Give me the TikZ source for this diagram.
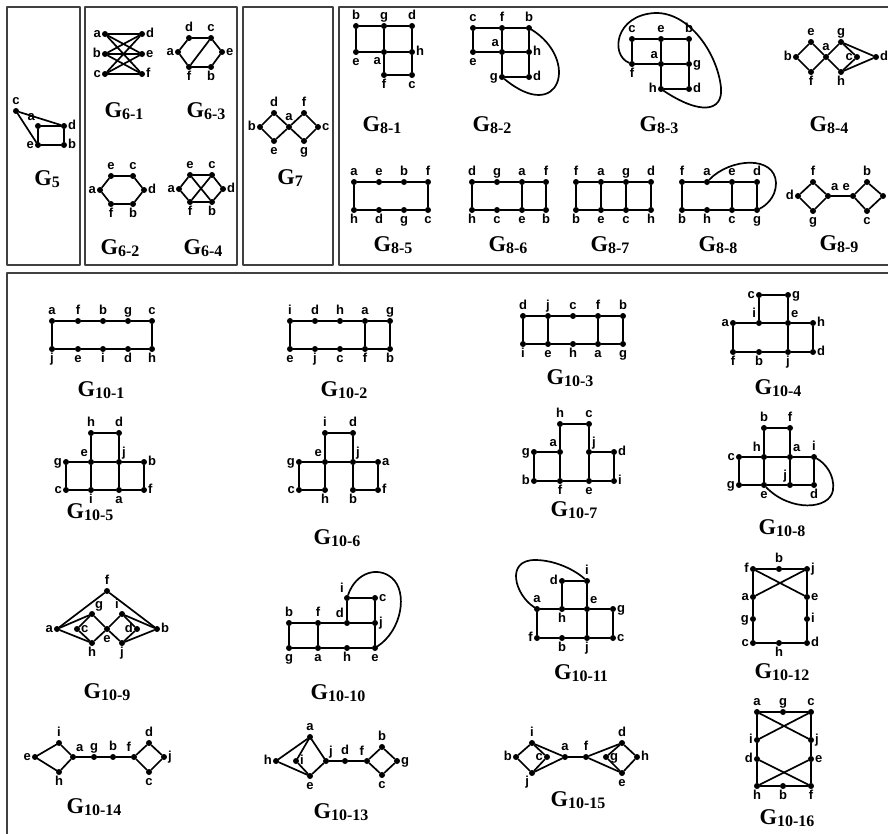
\documentclass[tikz,border=0pt]{standalone}
\usepackage{fontspec}
\setmainfont{Liberation Serif}
\setsansfont{Liberation Sans}
\newcommand{\gname}[1]{G\raisebox{-1.5pt}{\fontsize{16}{16}\selectfont #1}}

\begin{document}
\begin{tikzpicture}[
  x=1pt,
  y=-1pt,
  line join=round,
  line cap=round,
  frame/.style={draw=black!75,line width=1.8pt},
  edge/.style={draw=black,line width=1.7pt},
  dot/.style={circle,fill=black,inner sep=0pt,minimum size=6pt},
  label distance=0.4pt,
  every label/.style={font=\sffamily\bfseries\fontsize{13}{13}\selectfont,inner sep=0.4pt,text height=9.4pt,text depth=2.7pt},
  title/.style={font=\bfseries\fontsize{22.5}{22.5}\selectfont,inner sep=0pt}
]
  \useasboundingbox (0,0) rectangle (888,833);

  % Panel frames.
  \draw[frame] (7,7) rectangle (80,265);
  \draw[frame] (85,7) rectangle (237,265);
  \draw[frame] (243,7) rectangle (333,265);
  \draw[frame] (339,7) rectangle (896,265);
  \draw[frame] (7,273) rectangle (896,842);

  % G5.
  \foreach \nm/\x/\y/\pos in {c/16/111/above,a/38/126/above left,d/64/126/right,e/38/145/left,b/64/145/right}
    \node[dot,label=\pos:\nm] (g5\nm) at (\x,\y) {};
  \draw[edge] (g5c) -- (g5d);
  \draw[edge] (g5c) -- (g5e);
  \draw[edge] (g5a) -- (g5d) -- (g5b) -- (g5e) -- (g5a);
  \node[title] (t5) at (47,179) {\gname{5}};

  % G6-1.
  \foreach \nm/\x/\y/\pos in {a/105/34/left,b/105/54/left,c/105/74/left,d/142/34/right,e/142/54/right,f/142/74/right}
    \node[dot,label=\pos:\nm] (g61\nm) at (\x,\y) {};
  \foreach \u in {a,b,c} {
    \foreach \w in {d,e,f} {
      \draw[edge] (g61\u) -- (g61\w);
    }
  }
  \node[title] (t61) at (124,111) {\gname{6-1}};

  % G6-3.
  \foreach \nm/\x/\y/\pos in {d/189/38/above,c/211/38/above,a/178/52/left,e/222/52/right,f/189/67/below,b/211/67/below}
    \node[dot,label=\pos:\nm] (g63\nm) at (\x,\y) {};
  \draw[edge] (g63a) -- (g63d) -- (g63c) -- (g63e) -- (g63b) -- (g63f) -- (g63a);
  \draw[edge] (g63c) -- (g63f);
  \node[title] (t63) at (206,111) {\gname{6-3}};

  % G6-2.
  \foreach \nm/\x/\y/\pos in {e/111/176/above,c/133/176/above,a/100/190/left,d/144/190/right,f/111/204/below,b/133/204/below}
    \node[dot,label=\pos:\nm] (g62\nm) at (\x,\y) {};
  \draw[edge] (g62a) -- (g62e) -- (g62c) -- (g62d) -- (g62b) -- (g62f) -- (g62a);
  \node[title] (t62) at (120,248) {\gname{6-2}};

  % G6-4.
  \foreach \nm/\x/\y/\pos in {e/190/175/above,c/212/175/above,a/179/189/left,d/223/189/right,f/190/202/below,b/212/202/below}
    \node[dot,label=\pos:\nm] (g64\nm) at (\x,\y) {};
  \draw[edge] (g64a) -- (g64e) -- (g64c) -- (g64d) -- (g64b) -- (g64f) -- (g64a);
  \draw[edge] (g64e) -- (g64b);
  \draw[edge] (g64c) -- (g64f);
  \node[title] (t64) at (203,248) {\gname{6-4}};

  % G7.
  \foreach \nm/\x/\y/\pos in {d/274/113/above,f/304/113/above,b/260/127/left,a/289/127/above,c/318/127/right,e/274/141/below,g/304/141/below}
    \node[dot,label=\pos:\nm] (g7\nm) at (\x,\y) {};
  \draw[edge] (g7b) -- (g7d) -- (g7a) -- (g7e) -- (g7b);
  \draw[edge] (g7a) -- (g7f) -- (g7c) -- (g7g) -- (g7a);
  \node[title] (t7) at (290,178) {\gname{7}};

  % G8-1.
  \foreach \nm/\x/\y/\pos in {b/356/26/above,g/384/26/above,d/412/26/above,e/356/52/below,a/384/52/below left,h/412/52/right,f/384/75/below,c/412/75/below}
    \node[dot,label=\pos:\nm] (g81\nm) at (\x,\y) {};
  \draw[edge] (g81b) -- (g81g) -- (g81d);
  \draw[edge] (g81e) -- (g81a) -- (g81h);
  \draw[edge] (g81f) -- (g81c);
  \draw[edge] (g81b) -- (g81e);
  \draw[edge] (g81g) -- (g81a) -- (g81f);
  \draw[edge] (g81d) -- (g81h) -- (g81c);
  \node[title] (t81) at (382,125) {\gname{8-1}};

  % G8-2.
  \foreach \nm/\x/\y/\pos in {c/473/28/above,f/502/28/above,b/529/28/above,e/473/52/below,a/502/52/above left,h/529/52/right,g/502/77/left,d/529/77/right}
    \node[dot,label=\pos:\nm] (g82\nm) at (\x,\y) {};
  \draw[edge] (g82c) -- (g82f) -- (g82b);
  \draw[edge] (g82e) -- (g82a) -- (g82h);
  \draw[edge] (g82g) -- (g82d);
  \draw[edge] (g82c) -- (g82e);
  \draw[edge] (g82f) -- (g82a) -- (g82g);
  \draw[edge] (g82b) -- (g82h) -- (g82d);
  \draw[edge] (g82b) .. controls (580,60) and (560,125) .. (g82g);
  \node[title] (t82) at (492,125) {\gname{8-2}};

  % G8-3.
  \foreach \nm/\x/\y/\pos in {c/632/39/above,e/661/39/above,b/689/39/above,f/632/64/below,a/661/64/above left,g/689/64/right,h/661/89/left,d/689/89/right}
    \node[dot,label=\pos:\nm] (g83\nm) at (\x,\y) {};
  \draw[edge] (g83c) -- (g83e) -- (g83b);
  \draw[edge] (g83f) -- (g83a) -- (g83g);
  \draw[edge] (g83h) -- (g83d);
  \draw[edge] (g83c) -- (g83f);
  \draw[edge] (g83e) -- (g83a) -- (g83h);
  \draw[edge] (g83b) -- (g83g) -- (g83d);
  \draw[edge] (g83f) .. controls (610,55) and (615,15) .. (655,13)
    .. controls (690,12) and (718,55) .. (721,88)
    .. controls (723,112) and (700,115) .. (g83h);
  \node[title] (t83) at (659,125) {\gname{8-3}};

  % G8-4.
  \foreach \nm/\x/\y/\pos in {e/811/42/above,b/796/57/left,a/826/57/above,f/811/72/below,g/841/42/above,h/841/72/below,c/857/57/left,d/876/57/right}
    \node[dot,label=\pos:\nm] (g84\nm) at (\x,\y) {};
  \draw[edge] (g84b) -- (g84e) -- (g84a) -- (g84f) -- (g84b);
  \draw[edge] (g84a) -- (g84g) -- (g84c) -- (g84h) -- (g84a);
  \draw[edge] (g84g) -- (g84d) -- (g84h);
  \node[title] (t84) at (829,125) {\gname{8-4}};

  % G8-5.
  \foreach \nm/\x/\y/\pos in {a/354/182/above,e/379/182/above,b/404/182/above,f/428/182/above,h/354/210/below,d/379/210/below,g/404/210/below,c/428/210/below}
    \node[dot,label=\pos:\nm] (g85\nm) at (\x,\y) {};
  \draw[edge] (g85a) -- (g85e) -- (g85b) -- (g85f) -- (g85c) -- (g85g) -- (g85d) -- (g85h) -- (g85a);
  \node[title] (t85) at (393,245) {\gname{8-5}};

  % G8-6.
  \foreach \nm/\x/\y/\pos in {d/472/182/above,g/497/182/above,a/522/182/above,f/546/182/above,h/472/210/below,c/497/210/below,e/522/210/below,b/546/210/below}
    \node[dot,label=\pos:\nm] (g86\nm) at (\x,\y) {};
  \draw[edge] (g86d) -- (g86g) -- (g86a) -- (g86f) -- (g86b) -- (g86e) -- (g86c) -- (g86h) -- (g86d);
  \draw[edge] (g86a) -- (g86e);
  \node[title] (t86) at (508,245) {\gname{8-6}};

  % G8-7.
  \foreach \nm/\x/\y/\pos in {f/576/182/above,a/601/182/above,g/626/182/above,d/651/182/above,b/576/210/below,e/601/210/below,c/626/210/below,h/651/210/below}
    \node[dot,label=\pos:\nm] (g87\nm) at (\x,\y) {};
  \draw[edge] (g87f) -- (g87a) -- (g87g) -- (g87d) -- (g87h) -- (g87c) -- (g87e) -- (g87b) -- (g87f);
  \draw[edge] (g87a) -- (g87e);
  \draw[edge] (g87g) -- (g87c);
  \node[title] (t87) at (610,245) {\gname{8-7}};

  % G8-8.
  \foreach \nm/\x/\y/\pos in {f/682/182/above,a/707/182/above,e/732/182/above,d/757/182/above,b/682/210/below,h/707/210/below,c/732/210/below,g/757/210/below}
    \node[dot,label=\pos:\nm] (g88\nm) at (\x,\y) {};
  \draw[edge] (g88f) -- (g88a) -- (g88e) -- (g88d) -- (g88g) -- (g88c) -- (g88h) -- (g88b) -- (g88f);
  \draw[edge] (g88e) -- (g88c);
  \draw[edge] (g88a) .. controls (730,158) and (775,155) .. (776,183)
    .. controls (776,198) and (765,206) .. (g88g);
  \node[title] (t88) at (718,245) {\gname{8-8}};

  % G8-9 (its last vertex runs into the page edge).
  \foreach \nm/\x/\y/\pos in {f/813/182/above,d/798/196/left,a/828/196/above right,g/813/211/below,e/853/196/above left,b/867/182/above,c/867/211/below}
    \node[dot,label=\pos:\nm] (g89\nm) at (\x,\y) {};
  \node[dot] (g89h) at (883,196) {};
  \draw[edge] (g89d) -- (g89f) -- (g89a) -- (g89g) -- (g89d);
  \draw[edge] (g89a) -- (g89e);
  \draw[edge] (g89e) -- (g89b) -- (g89h) -- (g89c) -- (g89e);
  \node[title] (t89) at (839,244) {\gname{8-9}};

  % G10-1.
  \foreach \nm/\x/\y/\pos in {a/52/321/above,f/78/321/above,b/103/321/above,g/128/321/above,c/152/321/above,j/52/349/below,e/78/349/below,i/103/349/below,d/128/349/below,h/152/349/below}
    \node[dot,label=\pos:\nm] (w1\nm) at (\x,\y) {};
  \draw[edge] (w1a) -- (w1f) -- (w1b) -- (w1g) -- (w1c) -- (w1h) -- (w1d) -- (w1i) -- (w1e) -- (w1j) -- (w1a);
  \node[title] (t101) at (101,390) {\gname{10-1}};

  % G10-2.
  \foreach \nm/\x/\y/\pos in {i/290/321/above,d/315/321/above,h/340/321/above,a/365/321/above,g/390/321/above,e/290/349/below,j/315/349/below,c/340/349/below,f/365/349/below,b/390/349/below}
    \node[dot,label=\pos:\nm] (w2\nm) at (\x,\y) {};
  \draw[edge] (w2i) -- (w2d) -- (w2h) -- (w2a) -- (w2g) -- (w2b) -- (w2f) -- (w2c) -- (w2j) -- (w2e) -- (w2i);
  \draw[edge] (w2a) -- (w2f);
  \node[title] (t102) at (344,390) {\gname{10-2}};

  % G10-3.
  \foreach \nm/\x/\y/\pos in {d/523/316/above,j/548/316/above,c/573/316/above,f/598/316/above,b/623/316/above,i/523/344/below,e/548/344/below,h/573/344/below,a/598/344/below,g/623/344/below}
    \node[dot,label=\pos:\nm] (w3\nm) at (\x,\y) {};
  \draw[edge] (w3d) -- (w3j) -- (w3c) -- (w3f) -- (w3b) -- (w3g) -- (w3a) -- (w3h) -- (w3e) -- (w3i) -- (w3d);
  \draw[edge] (w3j) -- (w3e);
  \draw[edge] (w3f) -- (w3a);
  \node[title] (t103) at (570,378) {\gname{10-3}};

  % G10-4.
  \foreach \nm/\x/\y/\pos in {c/759/295/left,g/788/295/right,a/733/323/left,i/759/323/above left,e/788/323/above right,h/813/323/right,f/733/352/below,b/759/352/below,j/788/352/below,d/813/352/right}
    \node[dot,label=\pos:\nm] (w4\nm) at (\x,\y) {};
  \draw[edge] (w4i) -- (w4c) -- (w4g) -- (w4e);
  \draw[edge] (w4a) -- (w4i) -- (w4e) -- (w4h) -- (w4d) -- (w4j) -- (w4b) -- (w4f) -- (w4a);
  \draw[edge] (w4e) -- (w4j);
  \node[title] (t104) at (778,388) {\gname{10-4}};

  % G10-5.
  \foreach \nm/\x/\y/\pos in {h/91/433/above,d/119/433/above,g/66/462/left,e/91/462/above left,j/119/462/above right,b/144/462/right,c/66/490/left,i/91/490/below,a/119/490/below,f/144/490/right}
    \node[dot,label=\pos:\nm] (w5\nm) at (\x,\y) {};
  \draw[edge] (w5e) -- (w5h) -- (w5d) -- (w5j);
  \draw[edge] (w5g) -- (w5e) -- (w5j) -- (w5b) -- (w5f) -- (w5a) -- (w5i) -- (w5c) -- (w5g);
  \draw[edge] (w5e) -- (w5i);
  \draw[edge] (w5j) -- (w5a);
  \node[title] (t105) at (90,512) {\gname{10-5}};

  % G10-6.
  \foreach \nm/\x/\y/\pos in {i/325/433/above,d/353/433/above,g/299/462/left,e/325/462/above left,j/353/462/above right,a/378/462/right,c/299/490/left,h/325/490/below,b/353/490/below,f/378/490/right}
    \node[dot,label=\pos:\nm] (w6\nm) at (\x,\y) {};
  \draw[edge] (w6e) -- (w6i) -- (w6d) -- (w6j);
  \draw[edge] (w6g) -- (w6e) -- (w6j) -- (w6a) -- (w6f) -- (w6b) -- (w6j);
  \draw[edge] (w6g) -- (w6c) -- (w6h) -- (w6e);
  \node[title] (t106) at (337,538) {\gname{10-6}};

  % G10-7.
  \foreach \nm/\x/\y/\pos in {h/560/424/above,c/589/424/above,g/534/452/left,a/560/452/above left,j/589/452/above right,d/614/452/right,b/534/481/left,f/560/481/below,e/589/481/below,i/614/481/right}
    \node[dot,label=\pos:\nm] (w7\nm) at (\x,\y) {};
  \draw[edge] (w7f) -- (w7a) -- (w7h) -- (w7c) -- (w7j) -- (w7e);
  \draw[edge] (w7a) -- (w7g) -- (w7b) -- (w7f) -- (w7e) -- (w7i) -- (w7d) -- (w7j);
  \node[title] (t107) at (574,510) {\gname{10-7}};

  % G10-8.
  \foreach \nm/\x/\y/\pos in {b/764/428/above,f/790/428/above,c/739/457/left,h/764/457/above left,a/790/457/above right,i/814/457/above,g/739/485/left,e/764/485/below,j/790/485/above left,d/814/485/below}
    \node[dot,label=\pos:\nm] (w8\nm) at (\x,\y) {};
  \draw[edge] (w8e) -- (w8h) -- (w8b) -- (w8f) -- (w8a) -- (w8j);
  \draw[edge] (w8c) -- (w8h) -- (w8a) -- (w8i) -- (w8d) -- (w8j) -- (w8e) -- (w8g) -- (w8c);
  \draw[edge] (w8e) .. controls (790,512) and (830,510) .. (833,490)
    .. controls (835,475) and (825,463) .. (w8i);
  \node[title] (t108) at (782,528) {\gname{10-8}};

  % G10-9.
  \foreach \nm/\x/\y/\pos in {f/107/591/above,a/57/629/left,b/157/629/right,g/92/614/above right,i/122/614/above left,c/77/629/right,e/107/629/below,d/137/629/left,h/92/643/below,j/122/643/below}
    \node[dot,label=\pos:\nm] (w9\nm) at (\x,\y) {};
  \draw[edge] (w9a) -- (w9f) -- (w9b);
  \draw[edge] (w9g) -- (w9a) -- (w9h);
  \draw[edge] (w9i) -- (w9b) -- (w9j);
  \draw[edge] (w9g) -- (w9c) -- (w9h) -- (w9e) -- (w9g);
  \draw[edge] (w9i) -- (w9d) -- (w9j) -- (w9e) -- (w9i);
  \node[title] (t109) at (107,692) {\gname{10-9}};

  % G10-10.
  \foreach \nm/\x/\y/\pos in {i/347/598/above left,c/375/598/right,b/289/623/above,f/318/623/above,d/347/623/above left,j/375/623/right,g/289/648/below,a/318/648/below,h/347/648/below,e/375/648/below}
    \node[dot,label=\pos:\nm] (w10\nm) at (\x,\y) {};
  \draw[edge] (w10d) -- (w10i) -- (w10c) -- (w10j);
  \draw[edge] (w10b) -- (w10f) -- (w10d) -- (w10j) -- (w10e) -- (w10h) -- (w10a) -- (w10g) -- (w10b);
  \draw[edge] (w10f) -- (w10a);
  \draw[edge] (w10i) .. controls (356,572) and (378,566) .. (392,578)
    .. controls (408,592) and (402,630) .. (w10e);
  \node[title] (t1010) at (338,693) {\gname{10-10}};

  % G10-11.
  \foreach \nm/\x/\y/\pos in {d/562/581/left,i/587/581/above,a/537/609/above,h/562/609/below,e/587/609/above right,g/613/609/right,f/537/638/left,b/562/638/below,j/587/638/below,c/613/638/right}
    \node[dot,label=\pos:\nm] (w11\nm) at (\x,\y) {};
  \draw[edge] (w11h) -- (w11d) -- (w11i) -- (w11e) -- (w11j);
  \draw[edge] (w11a) -- (w11h) -- (w11e) -- (w11g) -- (w11c) -- (w11j) -- (w11b) -- (w11f) -- (w11a);
  \draw[edge] (w11a) .. controls (515,595) and (505,560) .. (535,560)
    .. controls (555,560) and (575,570) .. (w11i);
  \node[title] (t1011) at (581,673) {\gname{10-11}};

  % G10-12.
  \foreach \nm/\x/\y/\pos in {f/753/569/left,b/779/569/above,j/807/569/right,a/753/597/left,e/807/597/right,g/753/619/left,i/807/619/right,c/753/643/left,h/779/643/below,d/807/643/right}
    \node[dot,label=\pos:\nm] (w12\nm) at (\x,\y) {};
  \draw[edge] (w12f) -- (w12b) -- (w12j) -- (w12e) -- (w12i) -- (w12d) -- (w12h) -- (w12c) -- (w12g) -- (w12a) -- (w12f);
  \draw[edge] (w12f) -- (w12e);
  \draw[edge] (w12j) -- (w12a);
  \node[title] (t1012) at (782,672) {\gname{10-12}};

  % G10-14.
  \foreach \nm/\x/\y/\pos in {i/59/743/above,e/35/757/left,a/73/757/above right,h/59/772/below,g/94/757/above,b/113/757/above,f/134/757/above left,d/149/743/above,j/164/757/right,c/149/772/below}
    \node[dot,label=\pos:\nm] (w14\nm) at (\x,\y) {};
  \draw[edge] (w14i) -- (w14e) -- (w14h) -- (w14a) -- (w14i);
  \draw[edge] (w14a) -- (w14g) -- (w14b) -- (w14f);
  \draw[edge] (w14f) -- (w14d) -- (w14j) -- (w14c) -- (w14f);
  \node[title] (t1014) at (94,807) {\gname{10-14}};

  % G10-13.
  \foreach \nm/\x/\y/\pos in {a/310/737/above,h/276/761/left,i/296/761/right,j/326/761/above right,e/310/776/below,d/345/761/above,f/367/761/above left,b/382/747/above,g/397/761/right,c/382/775/below}
    \node[dot,label=\pos:\nm] (w13\nm) at (\x,\y) {};
  \draw[edge] (w13h) -- (w13a) -- (w13j) -- (w13e) -- (w13h);
  \draw[edge] (w13a) -- (w13i) -- (w13e);
  \draw[edge] (w13j) -- (w13d) -- (w13f);
  \draw[edge] (w13f) -- (w13b) -- (w13g) -- (w13c) -- (w13f);
  \node[title] (t1013) at (341,812) {\gname{10-13}};

  % G10-15.
  \foreach \nm/\x/\y/\pos in {i/532/743/above,b/516/757/left,c/547/757/left,j/532/773/below left,a/565/757/above,f/586/757/above,d/622/743/above,g/606/757/right,h/637/757/right,e/622/773/below}
    \node[dot,label=\pos:\nm] (w15\nm) at (\x,\y) {};
  \draw[edge] (w15i) -- (w15b) -- (w15j) -- (w15a) -- (w15i);
  \draw[edge] (w15i) -- (w15c) -- (w15j);
  \draw[edge] (w15a) -- (w15f);
  \draw[edge] (w15f) -- (w15d) -- (w15h) -- (w15e) -- (w15f);
  \draw[edge] (w15d) -- (w15g) -- (w15e);
  \node[title] (t1015) at (578,800) {\gname{10-15}};

  % G10-16.
  \foreach \nm/\x/\y/\pos in {a/757/712/above,g/783/712/above,c/811/712/above,i/757/740/left,j/811/740/right,d/757/759/left,e/811/759/right,h/757/786/below,b/783/786/below,f/811/786/below}
    \node[dot,label=\pos:\nm] (w16\nm) at (\x,\y) {};
  \draw[edge] (w16a) -- (w16g) -- (w16c) -- (w16j) -- (w16e) -- (w16f) -- (w16b) -- (w16h) -- (w16d) -- (w16i) -- (w16a);
  \draw[edge] (w16a) -- (w16j);
  \draw[edge] (w16c) -- (w16i);
  \draw[edge] (w16d) -- (w16f);
  \draw[edge] (w16e) -- (w16h);
  \node[title] (t1016) at (787,818) {\gname{10-16}};
\end{tikzpicture}
\end{document}
